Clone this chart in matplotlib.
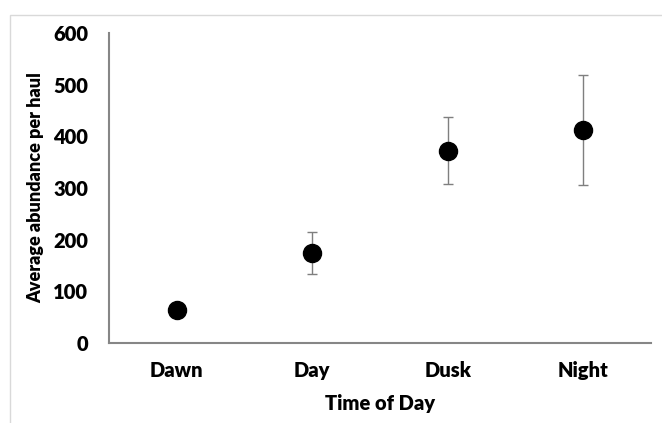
import matplotlib.pyplot as plt
from matplotlib.patches import Rectangle

# Data
times = ["Dawn", "Day", "Dusk", "Night"]
abundance = [63, 174, 372, 412]
err_low = [0, 40, 64, 107]
err_high = [0, 41, 65, 107]

plt.rcParams['font.family'] = ['Lato', 'DejaVu Sans']
plt.rcParams['font.weight'] = 'heavy'

fig = plt.figure(figsize=(6.62, 4.23), dpi=100)
ax = fig.add_axes([109 / 662, 1 - 343 / 423, (651 - 109) / 662, (343 - 33) / 423])

# light chart-area border like Excel
fig.patches.append(Rectangle((10 / 662, -0.1), 1.1, 1 - 15 / 423 + 0.1,
                             transform=fig.transFigure, fill=False,
                             edgecolor='#d9d9d9', lw=1))

xs = range(len(times))
ax.errorbar(xs, abundance, yerr=[err_low, err_high], fmt='o', color='black',
            ms=13, ecolor='#7f7f7f', elinewidth=1, capsize=3.5, capthick=1)

ax.set_xlim(-0.5, 3.5)
ax.set_ylim(0, 600)
ax.set_yticks([0, 100, 200, 300, 400, 500, 600])
ax.set_xticks(list(xs))
ax.set_xticklabels(times)
ax.tick_params(length=0, labelsize=14.5)
ax.tick_params(axis='y', pad=15)
ax.tick_params(axis='x', pad=13)
for s in ['top', 'right']:
    ax.spines[s].set_visible(False)
for s in ['left', 'bottom']:
    ax.spines[s].set_color('#868686')
    ax.spines[s].set_linewidth(1.5)

ax.set_xlabel("Time of Day", fontsize=14.5, fontweight='heavy', labelpad=10)
ax.set_ylabel("Average abundance per haul", fontsize=13, fontweight='heavy')
ax.yaxis.set_label_coords(-0.12, 0.5)

fig.savefig("out.png", dpi=100)
